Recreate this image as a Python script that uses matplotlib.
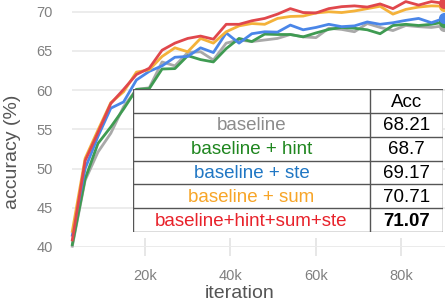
import numpy as np
import matplotlib
matplotlib.use('Agg')
import matplotlib.pyplot as plt

plt.rcParams['font.family'] = ['Liberation Sans', 'DejaVu Sans']

# Data
iterations = np.arange(1, 31) * 3000
red = [40.9, 51.0, 54.6, 58.3, 60.1, 62.0, 62.8, 65.1, 66.0, 66.6,
       66.9, 66.5, 68.4, 68.4, 68.85, 69.15, 69.7, 70.4, 69.9, 69.85,
       70.4, 70.65, 70.75, 70.6, 71.0, 70.4, 71.3, 70.85, 71.3, 71.07]
orange = [42.0, 51.3, 54.9, 58.4, 59.8, 62.3, 62.6, 64.3, 65.4, 64.9,
          66.6, 66.0, 67.45, 68.2, 68.5, 68.4, 69.15, 69.4, 69.45, 69.85,
          70.0, 69.9, 70.1, 70.4, 70.7, 69.7, 70.3, 70.6, 70.75, 70.71]
blue = [41.5, 50.0, 54.1, 57.7, 58.5, 61.3, 62.4, 63.1, 64.2, 64.3,
        65.4, 64.8, 67.3, 66.0, 67.2, 67.45, 67.4, 68.3, 67.7, 68.0,
        68.4, 68.1, 68.2, 68.7, 68.4, 68.6, 68.9, 69.15, 68.6, 69.17]
grey = [40.1, 48.5, 52.1, 54.5, 57.9, 60.1, 60.3, 63.6, 63.1, 64.8,
        64.9, 63.85, 66.0, 66.4, 66.2, 66.4, 66.6, 67.1, 66.8, 66.7,
        67.9, 67.75, 67.45, 68.5, 68.0, 67.6, 68.25, 68.1, 68.0, 68.21]
green = [40.3, 48.7, 53.2, 55.3, 57.6, 60.1, 60.2, 62.7, 62.75, 64.4,
         63.9, 63.6, 65.3, 66.6, 66.2, 67.15, 67.1, 67.1, 66.8, 67.3,
         67.75, 68.0, 67.9, 67.7, 67.2, 68.25, 68.4, 68.25, 68.4, 68.7]

names = ['baseline', 'baseline + hint', 'baseline + ste', 'baseline + sum',
         'baseline+hint+sum+ste']
acc = ['68.21', '68.7', '69.17', '70.71', '71.07']
series = [grey, green, blue, orange, red]
line_colors = ['#a9a9a9', '#3f9b52', '#4a86e8', '#f4b23a', '#e0474c']
text_colors = ['#8c8c8c', '#1f861f', '#2077c4', '#f7a528', '#e8222b']

fig = plt.figure(figsize=(4.45, 3.07), dpi=100)
ax = fig.add_axes([72.3 / 445, 60 / 307, 372.7 / 445, 247 / 307])

for s, c in zip(series, line_colors):
    ax.plot(iterations, s, color=c, lw=2.0, clip_on=False, zorder=3)
    ax.plot(iterations[-1], s[-1], 'o', color=c, ms=7, zorder=4)

ax.set_xlim(3000, 90180)
ax.set_ylim(40, 71.5)
ax.set_yticks([40, 45, 50, 55, 60, 65, 70])
ax.set_xticks([20000, 40000, 60000, 80000])
ax.set_xticklabels(['20k', '40k', '60k', '80k'])
for sp in ax.spines.values():
    sp.set_visible(False)
ax.grid(axis='y', color='#ebebeb', lw=1.3)
ax.set_axisbelow(True)
ax.tick_params(axis='y', length=0, pad=14, labelsize=10.5, labelcolor='#808080')
ax.tick_params(axis='x', direction='inout', length=13, width=1.2,
               color='#e3e3e3', pad=9, labelsize=10.5, labelcolor='#808080')
ax.axhline(40, color='#ebebeb', lw=1.3, zorder=0)

ax.set_ylabel('accuracy (%)', fontsize=14, color='#555555')
ax.yaxis.set_label_coords(-0.138, 0.385)
ax.set_xlabel('iteration', fontsize=14, color='#555555', va='center')
ax.xaxis.set_label_coords(0.45, -0.19)

# Table drawn on top of the chart
tab = fig.add_axes([133 / 445, 75 / 307, 310 / 445, 143 / 307])
tab.set_xlim(0, 310)
tab.set_ylim(143, 0)
tab.axis('off')
tab.add_patch(plt.Rectangle((0, 0), 310, 143, facecolor='white',
                            edgecolor='#555555', lw=1.0))
row_h = 143 / 6
for i in range(1, 6):
    tab.plot([0, 310], [i * row_h, i * row_h], color='#555555', lw=1.0)
tab.plot([237, 237], [0, 143], color='#555555', lw=1.0)

tab.text(273.5, row_h * 0.55, 'Acc', ha='center', va='center', fontsize=13.5)
for i, (n, a, c) in enumerate(zip(names, acc, text_colors)):
    y = row_h * (i + 1.55)
    tab.text(118.5, y, n, ha='center', va='center', fontsize=13.5, color=c)
    tab.text(273.5, y, a, ha='center', va='center', fontsize=13.5,
             color='black', fontweight='bold' if i == 4 else 'normal')

fig.savefig('out.png', dpi=100)
